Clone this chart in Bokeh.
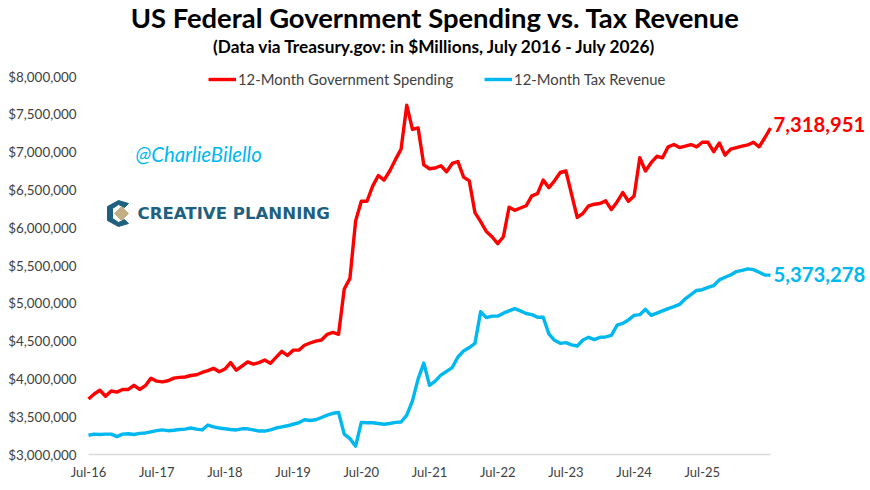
from bokeh.embed import file_html
from bokeh.resources import INLINE
from bokeh.plotting import figure
from bokeh.models import Range1d, FixedTicker, Label, Legend, LegendItem, LinearAxis

TITLE = "US Federal Government Spending vs. Tax Revenue"
SUBTITLE = "(Data via Treasury.gov: in $Millions, July 2016 - July 2026)"
SPENDING_NAME = "12-Month Government Spending"
REVENUE_NAME = "12-Month Tax Revenue"
HANDLE = "@CharlieBilello"
BRAND = "CREATIVE PLANNING"

months = list(range(121))
x_ticks = [0, 12, 24, 36, 48, 60, 72, 84, 96, 108]
x_labels = ["Jul-16", "Jul-17", "Jul-18", "Jul-19", "Jul-20", "Jul-21", "Jul-22", "Jul-23", "Jul-24", "Jul-25"]
y_ticks = [3000000, 3500000, 4000000, 4500000, 5000000, 5500000, 6000000, 6500000, 7000000, 7500000, 8000000]

spending = [
    3734, 3800, 3850, 3770, 3840, 3825, 3860, 3860, 3915, 3860, 3910, 4010,
    3970, 3960, 3975, 4010, 4020, 4025, 4045, 4055, 4085, 4110, 4140, 4095,
    4130, 4215, 4115, 4170, 4225, 4195, 4215, 4250, 4205, 4285, 4365, 4310,
    4380, 4380, 4445, 4475, 4500, 4515, 4590, 4615, 4590, 5190, 5330, 6090,
    6350, 6350, 6550, 6690, 6630, 6750, 6900, 7040, 7620, 7300, 7320, 6830,
    6780, 6790, 6820, 6740, 6850, 6875, 6670, 6620, 6200, 6080, 5950, 5880,
    5790, 5880, 6270, 6230, 6260, 6290, 6420, 6450, 6630, 6530, 6620, 6730,
    6750, 6440, 6135, 6190, 6290, 6310, 6320, 6355, 6240, 6340, 6465, 6350,
    6420, 6925, 6750, 6860, 6945, 6925, 7070, 7100, 7060, 7080, 7100, 7070,
    7130, 7130, 7005, 7120, 6960, 7040, 7060, 7080, 7095, 7130, 7070, 7190,
    7318.951,
]
revenue = [
    3255, 3270, 3265, 3270, 3270, 3237, 3270, 3275, 3265, 3280, 3285, 3300,
    3315, 3325, 3315, 3320, 3330, 3335, 3350, 3335, 3325, 3390, 3365, 3350,
    3340, 3330, 3325, 3340, 3340, 3325, 3310, 3310, 3325, 3350, 3365, 3380,
    3400, 3420, 3460, 3450, 3460, 3490, 3520, 3545, 3555, 3270, 3210, 3110,
    3425, 3420, 3420, 3410, 3400, 3410, 3425, 3430, 3520, 3710, 4000, 4210,
    3915, 3970, 4050, 4100, 4150, 4290, 4370, 4415, 4470, 4890, 4810, 4830,
    4830, 4870, 4900, 4930, 4900, 4865, 4850, 4815, 4815, 4595, 4510, 4470,
    4480, 4450, 4435, 4515, 4550, 4520, 4550, 4555, 4575, 4710, 4735, 4780,
    4840, 4850, 4920, 4840, 4870, 4900, 4930, 4955, 4985, 5060, 5115, 5170,
    5180, 5210, 5235, 5310, 5345, 5375, 5420, 5435, 5455, 5445, 5410, 5375,
    5373.278,
]
spending_usd = [v * 1000 for v in spending]
revenue_usd = [v * 1000 for v in revenue]

RED = "#FF0000"
BLUE = "#00B8F0"
TEXT = "#404040"
TEAL = "#1F5F80"
TAN = "#C4AE84"
BODY = "Lato"

# The frame fills the whole canvas, so that titles and end labels are not clipped.
W, H = 868, 488
PX_LEFT, PX_RIGHT, PX_TOP, PX_BOTTOM = 88, 770, 76, 454
X_PER_PX = 120 / (PX_RIGHT - PX_LEFT)
Y_PER_PX = 5000000 / (PX_BOTTOM - PX_TOP)


def dx(px):
    return (px - PX_LEFT) * X_PER_PX


def dy(py):
    return 3000000 + (PX_BOTTOM - py) * Y_PER_PX


p = figure(width=W, height=H, output_backend="svg", toolbar_location=None,
           x_range=Range1d(dx(0), dx(W)), y_range=Range1d(dy(H), dy(0)),
           x_axis_location=None, y_axis_location=None,
           min_border_left=0, min_border_right=0, min_border_top=0, min_border_bottom=0)
p.outline_line_color = None
p.grid.visible = False
p.background_fill_color = "white"

xa = LinearAxis(fixed_location=3000000, bounds=(0, 120))
xa.ticker = FixedTicker(ticks=x_ticks)
xa.major_label_overrides = dict(zip(x_ticks, x_labels))
xa.axis_line_color = "#D9D9D9"
xa.axis_line_width = 1.5
xa.major_tick_line_color = None
xa.minor_tick_line_color = None
xa.major_label_standoff = 3
xa.major_label_text_font = BODY
xa.major_label_text_font_size = "13px"
xa.major_label_text_color = TEXT
p.add_layout(xa, "below")

ya = LinearAxis(fixed_location=0)
ya.ticker = FixedTicker(ticks=y_ticks)
ya.major_label_overrides = {v: f"${v:,}" for v in y_ticks}
ya.axis_line_color = None
ya.major_tick_line_color = None
ya.minor_tick_line_color = None
ya.major_label_standoff = 6
ya.major_label_text_font = BODY
ya.major_label_text_font_size = "13.4px"
ya.major_label_text_color = TEXT
p.add_layout(ya, "left")

r1 = p.line(months, spending_usd, line_color=RED, line_width=3.4, line_join="round")
r2 = p.line(months, revenue_usd, line_color=BLUE, line_width=3.4, line_join="round")

legend = Legend(items=[LegendItem(label=SPENDING_NAME, renderers=[r1]),
                       LegendItem(label=REVENUE_NAME, renderers=[r2])],
                orientation="horizontal", location=(208, H - 88),
                border_line_color=None, background_fill_alpha=0,
                glyph_width=28, glyph_height=16, label_standoff=2, spacing=31,
                padding=0, margin=0, label_text_font=BODY,
                label_text_font_size="14.8px", label_text_color=TEXT)
p.add_layout(legend)


def screen_label(text, x, y, size, color, font=BODY, style="normal", align="left"):
    p.add_layout(Label(x=x, y=H - y, x_units="screen", y_units="screen", text=text,
                       text_font=font, text_font_size=size, text_color=color,
                       text_font_style=style, text_align=align, text_baseline="middle"))


screen_label(TITLE, 435, 17, "27.4px", "#000000", style="bold", align="center")
screen_label(SUBTITLE, 434.5, 45.5, "17.3px", "#000000", style="bold", align="center")
screen_label(HANDLE, 135, 153.5, "20.4px", BLUE, style="italic")
screen_label(BRAND, 137, 213, "16.6px", TEAL, font="DejaVu Sans", style="bold")

for series, color, lift in ((spending_usd, RED, 3), (revenue_usd, BLUE, 1)):
    p.add_layout(Label(x=months[-1], y=series[-1], x_offset=3, y_offset=lift,
                       text=f"{round(series[-1]):,}", text_font=BODY, text_font_style="bold",
                       text_font_size="20.3px", text_color=color, text_baseline="middle"))

# Logo emblem, placed by window pixel
emblem = [(128, 203), (118, 200), (107, 206), (107, 220), (118, 226), (128, 223),
          (124, 219), (118, 222), (112, 218), (112, 208), (118, 204), (124, 207)]
p.patch([dx(a) for a, _ in emblem], [dy(b) for _, b in emblem], fill_color=TEAL, line_color=TEAL)
diamond = [(121, 206), (128, 213), (121, 220), (114, 213)]
p.patch([dx(a) for a, _ in diamond], [dy(b) for _, b in diamond], fill_color=TAN, line_color=TAN)

open("out.html", "w").write(file_html(p, INLINE))
